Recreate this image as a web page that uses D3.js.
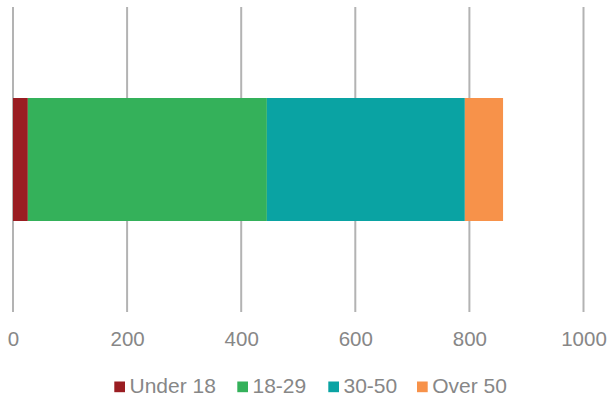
<!DOCTYPE html>
<html><head><meta charset="utf-8">
<script src="https://cdn.jsdelivr.net/npm/d3@7"></script>
<style>body{margin:0;background:#fff}svg{display:block}text{font-family:"Liberation Sans",Arial,sans-serif}</style>
</head><body><svg id="c" width="610" height="396"></svg>
<script>
const categories = ["Total"];
const seriesNames = ["Under 18", "18-29", "30-50", "Over 50"];
const seriesValues = [[26], [419], [347], [67]];
const seriesColors = ["#9A1D22", "#34B15A", "#0AA3A3", "#F7924A"];
const tickValues = [0, 200, 400, 600, 800, 1000];

const svg = d3.select("#c");
const x = d3.scaleLinear().domain([0, 1000]).range([13, 583.5]);

// gridlines
svg.append("g").selectAll("line").data(tickValues).join("line")
  .attr("x1", d => x(d)).attr("x2", d => x(d))
  .attr("y1", 7).attr("y2", 312)
  .attr("stroke", "#b3b3b3").attr("stroke-width", 2);

// stacked data
const rows = categories.map((c, i) => {
  const o = {cat: c};
  seriesNames.forEach((s, j) => o[s] = seriesValues[j][i]);
  return o;
});
const stack = d3.stack().keys(seriesNames)(rows);
svg.append("g").selectAll("g").data(stack).join("g")
  .attr("fill", (d, i) => seriesColors[i])
  .selectAll("rect").data(d => d).join("rect")
  .attr("x", d => x(d[0])).attr("width", d => x(d[1]) - x(d[0]))
  .attr("y", 98).attr("height", 123);

// axis labels
const ax = svg.append("g").attr("transform", "translate(0,346)")
  .call(d3.axisBottom(x).tickValues(tickValues).tickSize(0).tickFormat(d3.format("d")));
ax.select(".domain").remove();
ax.selectAll("text").attr("dy", 0).attr("y", 0).attr("fill", "#878787").attr("font-size", 20.5)
  .style("font-family", "'Liberation Sans',Arial,sans-serif");

// legend
const legX = [114.3, 237.3, 328.3, 417];
const leg = svg.append("g").selectAll("g").data(seriesNames).join("g")
  .attr("transform", (d, i) => `translate(${legX[i]},381.5)`);
leg.append("rect").attr("width", 10.7).attr("height", 10.7).attr("fill", (d, i) => seriesColors[i]);
leg.append("text").attr("x", 15.2).attr("y", 11).attr("font-size", 21).attr("fill", "#878787").text(d => d);
</script></body></html>
